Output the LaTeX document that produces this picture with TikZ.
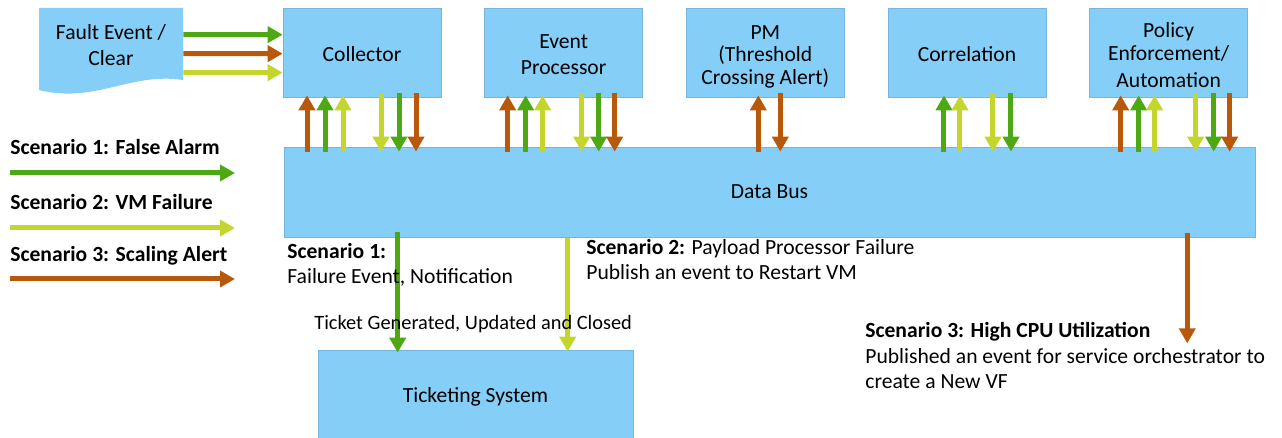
\documentclass[tikz,border=0pt]{standalone}
\usepackage{fontspec}
\setmainfont{Carlito}
\usetikzlibrary{arrows.meta,positioning,calc}
\definecolor{boxblue}{RGB}{133,206,248}
\definecolor{boxline}{RGB}{118,182,222}
\definecolor{scone}{RGB}{78,168,20}
\definecolor{sctwo}{RGB}{196,214,46}
\definecolor{scthree}{RGB}{184,88,10}
\newcommand{\lift}[1]{\rule{0pt}{#1}}
\tikzset{
  box/.style  = {draw=boxline, fill=boxblue, minimum width=3.16cm, minimum height=1.78cm, align=center, inner sep=1pt,
                 font=\fontsize{12.3}{13}\selectfont},
  note/.style = {anchor=north west, inner sep=0pt, align=left, font=\fontsize{12.3}{14.5}\selectfont},
  flow/.style = {line width=0.1cm, -{Triangle[length=0.3cm, width=0.32cm]}},
}

\begin{document}
\begin{tikzpicture}[x=0.02cm, y=-0.02cm, node distance=0.86cm]
    \useasboundingbox (0,0) rectangle (1282,438);

    % Alarm source (document shape)
    \fill[boxblue] (39,8) -- (183,8) -- (183,80) .. controls (130,72) and (95,104) .. (39,90) -- cycle;
    \node[box, draw=none, fill=none, minimum width=2.88cm, minimum height=1.44cm] (fault) at (111,44) {\lift{10pt}Fault Event /\\[1.7pt] Clear};

    % Top row of functions
    \node[box] (collector) at (362,52.5) {\lift{10.9pt}Collector};
    \node[box, right=of collector] (evproc) {\lift{10.1pt}Event\\[1.7pt] Processor};
    \node[box, right=of evproc] (pm) {\lift{12.8pt}PM\\ (Threshold\\ Crossing Alert)};
    \node[box, right=of pm] (corr) {\lift{10.9pt}Correlation};
    \node[box, right=of corr] (policy) {\lift{12pt}Policy\\ Enforcement/\\[2.5pt] Automation};

    % Bus and ticketing
    \node[box, minimum width=19.42cm, minimum height=1.8cm] (bus) at (769.5,192) {Data Bus};
    \node[box, minimum width=6.3cm, minimum height=1.76cm] (ticket) at (475.5,394) {\lift{12pt}Ticketing System};

    % Fault event feeds the collector
    \draw[flow,scone]   ($(fault.north east)+(0,27)$) -- ($(collector.north west)+(0,27)$);
    \draw[flow,scthree] ($(fault.north east)+(0,46)$) -- ($(collector.north west)+(0,46)$);
    \draw[flow,sctwo]   ($(fault.north east)+(0,65)$) -- ($(collector.north west)+(0,65)$);

    % Functions -> bus (up) and bus -> functions (down)
    \foreach \b/\dx/\c in {collector/-55/scthree, collector/-37/scone, collector/-19/sctwo,
                           evproc/-56/scthree, evproc/-38/scone, evproc/-21/sctwo,
                           pm/-7/scthree,
                           corr/-23/scone, corr/-7/sctwo,
                           policy/-48/scthree, policy/-30/scone, policy/-14/sctwo}
      \draw[flow,\c] ($(\b.south |- bus.north)+(\dx,5)$) -- ($(\b.south)+(\dx,-2)$);
    \foreach \b/\dx/\c in {collector/19/sctwo, collector/37/scone, collector/54/scthree,
                           evproc/18/sctwo, evproc/35/scone, evproc/51/scthree,
                           pm/15/scthree,
                           corr/26/sctwo, corr/44/scone,
                           policy/27/sctwo, policy/45/scone, policy/61/scthree}
      \draw[flow,\c] ($(\b.south)+(\dx,-4)$) -- ($(\b.south |- bus.north)+(\dx,5)$);

    % Bus outputs
    \draw[flow,scone] ($(ticket.north west |- bus.south)+(80,-5)$) -- ($(ticket.north west)+(80,3)$);
    \draw[flow,sctwo] ($(ticket.north west |- bus.south)+(250,1)$) -- ($(ticket.north west)+(250,2)$);
    \draw[flow,scthree] ($(bus.south east)+(-68,-4)$) -- ++(0,110);

    % Legend
    \node[note, anchor=base west] (leg1) at (10,155) {\textbf{Scenario 1: False Alarm}};
    \node[note, anchor=base west] (leg2) at (10,210) {\textbf{Scenario 2: VM Failure}};
    \node[note, anchor=base west] (leg3) at (10,262) {\textbf{Scenario 3: Scaling Alert}};
    \draw[flow,scone]   ($(leg1.base west)+(0,18)$) -- ++(225,0);
    \draw[flow,sctwo]   ($(leg2.base west)+(0,18)$) -- ++(225,0);
    \draw[flow,scthree] ($(leg3.base west)+(0,17)$) -- ++(225,0);

    % Scenario notes
    \node[note] (sone) at (287,243) {\textbf{Scenario 1:}\\ Failure Event, Notification};
    \node[note] (stwo) at (586,239) {\textbf{Scenario 2:} Payload Processor Failure\\ Publish an event to Restart VM};
    \node[note] (sthree) at (865,322) {\textbf{Scenario 3: High CPU Utilization}\\ Published an event for service orchestrator to\\ create a New VF};
    \node[note, anchor=base west, font=\fontsize{11.6}{13}\selectfont] (tick) at (314,330) {Ticket Generated, Updated and Closed};
\end{tikzpicture}
\end{document}
